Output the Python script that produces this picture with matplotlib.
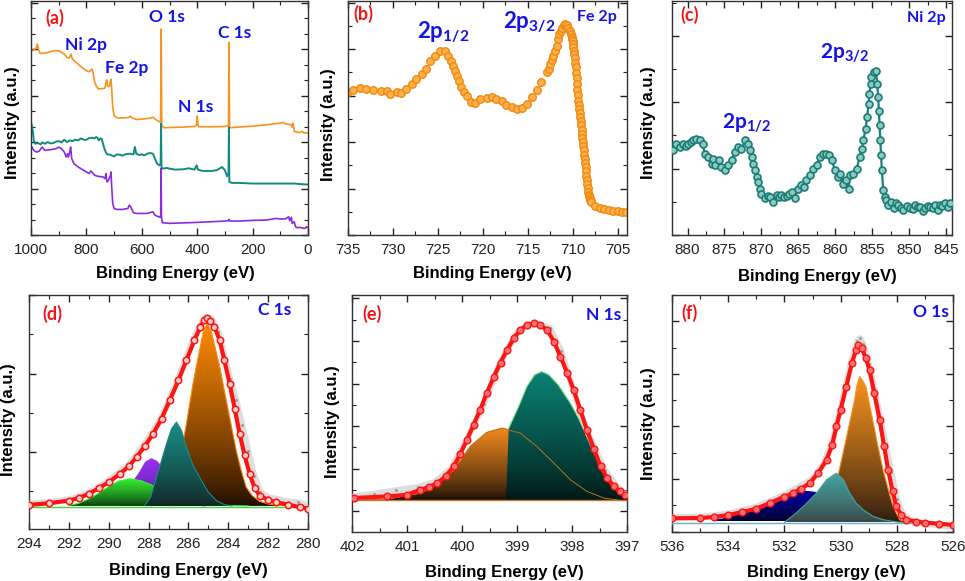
import numpy as np
import matplotlib
matplotlib.use("Agg")
import matplotlib.pyplot as plt
from matplotlib.patches import Polygon
from matplotlib.colors import to_rgb
from matplotlib.ticker import MultipleLocator

plt.rcParams['font.family'] = ['Liberation Sans', 'DejaVu Sans']
plt.rcParams['mathtext.fontset'] = 'custom'
plt.rcParams['mathtext.bf'] = 'Lato:bold'
plt.rcParams['mathtext.rm'] = 'Lato'
plt.rcParams['mathtext.it'] = 'Lato:italic'

# ---------------- (a) survey ----------------
SURV_O_BE = [1000, 990, 980, 977, 973, 967, 950, 930, 920, 900, 895, 880, 870, 862, 858, 855, 852, 845, 830,
             817, 800, 790, 785, 780, 776, 770, 765, 757, 740, 733, 729, 727, 724, 720, 716, 713, 711, 709, 705,
             700, 690, 660, 648, 642, 635, 620, 600, 570, 560, 550, 540, 534, 532, 530, 528, 520, 500, 450, 410,
             403, 400, 397, 394, 350, 300, 290, 287, 285, 283, 281, 270, 200, 150, 100, 90, 80, 60, 57, 55, 52,
             50, 40, 30, 20, 15, 10, 0]
SURV_O = [555, 557, 565, 575, 560, 547, 548, 552, 555, 555, 553, 545, 535, 533, 540, 545, 533, 525, 515,
          505, 495, 492, 495, 500, 490, 460, 450, 440, 441, 443, 460, 467, 450, 447, 450, 465, 469, 445, 385,
          360, 353, 353, 354, 358, 353, 348, 349, 352, 355, 348, 343, 340, 345, 620, 330, 323, 324, 325, 327,
          330, 358, 330, 326, 326, 327, 330, 328, 580, 325, 323, 324, 328, 332, 337, 339, 335, 332, 325, 337, 327,
          312, 310, 309, 312, 307, 308, 307]

SURV_T_BE = [1000, 997, 993, 990, 985, 975, 965, 960, 950, 940, 930, 920, 910, 900, 890, 880, 870, 860, 850,
             840, 830, 820, 810, 800, 790, 780, 770, 765, 760, 755, 750, 745, 740, 735, 730, 725, 715, 710, 700,
             690, 680, 670, 660, 645, 630, 625, 620, 610, 600, 590, 580, 570, 560, 555, 545, 537, 532, 530.5,
             529, 525, 510, 500, 480, 450, 430, 410, 402, 398, 380, 350, 330, 320, 310, 300, 292, 287, 285.5,
             284, 275, 250, 200, 150, 100, 50, 20, 0]
SURV_T = [340, 330, 310, 285, 275, 277, 273, 279, 275, 280, 276, 277, 281, 283, 279, 287, 280, 285, 283,
          287, 285, 291, 287, 287, 292, 293, 291, 295, 293, 285, 291, 290, 275, 260, 250, 243, 242, 240, 237,
          243, 242, 239, 243, 245, 243, 265, 245, 241, 243, 240, 245, 247, 245, 235, 215, 210, 215, 335,
          205, 200, 202, 200, 197, 198, 201, 197, 210, 197, 193, 193, 195, 200, 205, 195, 177, 185, 325,
          160, 157, 157, 155, 155, 155, 155, 153, 152]

SURV_P_BE = [1000, 997, 990, 980, 970, 960, 950, 930, 910, 900, 890, 880, 873, 868, 865, 860, 857, 853, 845,
             830, 810, 790, 784, 780, 770, 760, 740, 733, 729, 726, 720, 713, 711, 709, 705, 700, 690, 670, 650,
             645, 640, 630, 620, 580, 560, 553, 540, 532, 530.5, 529, 526, 500, 400, 300, 288, 285, 282, 250,
             200, 150, 115, 100, 80, 70, 66, 60, 57, 50, 45, 40, 30, 20, 10, 5, 0]
SURV_P = [267, 265, 255, 250, 253, 265, 255, 257, 260, 265, 260, 250, 235, 245, 235, 250, 265, 230, 215,
          205, 195, 185, 193, 190, 180, 177, 175, 170, 185, 160, 165, 180, 190, 150, 95, 80, 77, 77, 80,
          90, 85, 67, 65, 65, 70, 60, 55, 53, 200, 55, 37, 35, 38, 42, 43, 47, 42, 42,
          44, 45, 50, 48, 49, 55, 43, 53, 35, 40, 25, 22, 23, 21, 20, 25, 22]

# ---------------- (b) Fe 2p ----------------
FE_BE = [735.0, 734.4, 733.7, 733.0, 732.2, 731.3, 730.7, 730.3, 729.6, 729.1, 728.5, 727.9, 727.4, 726.8,
         726.3, 725.9, 725.3, 724.8, 724.2, 723.9, 723.5, 723.3, 723.1, 722.9, 722.7, 722.4, 722.1, 721.8,
         721.3, 720.9, 720.3, 719.6, 719.0, 718.5, 717.9, 717.4, 716.8, 716.2, 715.7, 715.1, 714.6, 714.0,
         713.5, 712.9, 712.7, 712.5, 712.35, 712.2, 712.0, 711.8, 711.65, 711.5, 711.35, 711.2, 711.05,
         710.9, 710.7, 710.5, 710.35, 710.2, 710.15, 710.1, 710.05, 710.0, 709.95, 709.9, 709.85, 709.8,
         709.75, 709.7, 709.65, 709.6, 709.55, 709.5, 709.45, 709.4, 709.35, 709.3, 709.25, 709.2, 709.15,
         709.1, 709.05, 709.0, 708.95, 708.9, 708.85, 708.8, 708.75, 708.7, 708.65, 708.6, 708.55, 708.5,
         708.45, 708.4, 708.35, 708.3, 708.25, 708.2, 708.15, 708.1, 708.05, 708.0, 707.5, 707.0, 706.5,
         706.0, 705.5, 705.0, 704.5, 704.1]
FE_INT = [430, 437, 443, 440, 437, 435, 433, 425, 430, 428, 440, 455, 470, 485,
          500, 525, 540, 555, 553, 540, 525, 510, 495, 480, 465, 445, 432, 420,
          400, 398, 410, 413, 415, 410, 403, 393, 385, 380, 383, 395, 415, 437,
          460, 490, 500, 515, 528, 540, 555, 570, 590, 605, 615, 625, 632,
          635, 632, 625, 615, 605, 598, 590, 583, 575, 565, 555, 545, 532,
          519, 505, 489, 472, 455, 438, 422, 405, 392, 380, 367, 355, 342,
          330, 317, 305, 292, 280, 267, 255, 242, 230, 217, 205, 192, 178,
          165, 153, 141, 130, 122, 116, 110, 106, 103, 100, 87, 81, 78,
          76, 73, 71, 70, 69]

# ---------------- (c) Ni 2p ----------------
NI_BE = [881.9, 881.5, 881.0, 880.6, 880.2, 879.9, 879.5, 879.2, 878.8, 878.3, 877.9, 877.7, 877.2, 876.7,
         876.5, 876.3, 875.8, 875.4, 874.9, 874.5, 874.0, 873.6, 873.1, 872.7, 872.2, 871.8, 871.5, 871.3,
         871.1, 870.9, 870.6, 870.4, 870.2, 870.0, 869.5, 869.1, 868.8, 868.4, 867.9, 867.6, 867.3, 866.9,
         866.6, 866.2, 865.9, 865.5, 865.0, 864.6, 864.2, 863.9, 863.4, 863.0, 862.5, 862.1, 861.6, 861.2,
         860.9, 860.5, 860.0, 859.6, 859.4, 858.9, 858.5, 858.2, 858.0, 857.6, 857.1, 856.7, 856.4, 856.2,
         855.9, 855.7, 855.5, 855.4, 855.2, 855.1, 854.8, 854.5, 854.3, 854.2, 854.1, 854.0, 853.9, 853.8,
         853.7, 853.5, 853.3, 853.1, 852.8, 852.5, 852.1, 851.8, 851.5, 851.1, 850.8, 850.3, 849.9, 849.5,
         849.2, 848.8, 848.5, 848.1, 847.8, 847.5, 847.2, 846.8, 846.5, 846.1, 845.8, 845.5, 845.1, 844.8,
         844.5]
NI_INT = [255, 275, 265, 275, 267, 275, 280, 285, 290, 285, 275, 245, 235, 215,
          230, 210, 225, 205, 195, 210, 225, 250, 265, 260, 285, 275, 255, 235,
          215, 195, 175, 160, 140, 125, 110, 117, 115, 100, 120, 113, 120, 115,
          117, 123, 130, 110, 140, 150, 145, 165, 180, 200, 210, 235, 245, 243,
          240, 225, 195, 175, 185, 155, 165, 140, 180, 185, 200, 235, 260, 285,
          320, 355, 395, 425, 455, 475, 490, 495, 455, 415, 375, 330, 285, 240,
          195, 135, 115, 105, 90, 100, 80, 95, 90, 80, 75, 87, 80, 77,
          90, 83, 85, 73, 80, 87, 85, 80, 90, 75, 90, 87, 95, 85,
          95]

# ---------------- (d) C 1s ----------------
C_ENV_BE = [294, 293, 292, 291.5, 291, 290.5, 290, 289.44, 289, 288.6, 288.2, 287.77, 287.35, 286.94, 286.5,
            286.1, 285.7, 285.4, 285.2, 285.07, 284.9, 284.7, 284.43, 284.2, 283.93, 283.68, 283.43, 283.18,
            282.93, 282.68, 282.43, 282.0, 281.6, 281, 280.4, 280]
C_ENV = [72, 77, 85, 93, 105, 122, 140, 165, 187, 215, 247, 285, 330, 385, 445,
         505, 565, 605, 625, 630, 623, 605, 565, 505, 435, 360, 285, 220,
         165, 123, 100, 87, 80, 73, 65, 61]
C_RAW_BE = [294, 293, 292, 291, 290, 289, 288.2, 287.5, 287, 286.5, 286.1, 285.7, 285.4, 285.1, 284.8, 284.5,
            284.2, 283.9, 283.6, 283.3, 283.0, 282.7, 282.4, 282.0, 281.6, 281, 280.5, 280]
C_RAW = [75, 80, 88, 108, 145, 192, 255, 318, 382, 452, 515, 575, 612, 635, 628, 590,
         520, 450, 385, 310, 232, 160, 112, 95, 90, 82, 80, 70]
C_BASE = 69
C_ORANGE_BE = [287.0, 286.6, 286.35, 286.1, 285.77, 285.44, 285.25, 285.07, 284.85, 284.65, 284.43, 284.1,
               283.85, 283.6, 283.35, 283.1, 282.8, 282.43, 282.0, 281.5, 281.0]
C_ORANGE = [70, 155, 235, 315, 435, 535, 590, 615, 590, 540, 485, 385, 310, 235, 175, 125, 100, 83, 75, 71, 69]
C_TEAL_BE = [288.2, 287.9, 287.6, 287.35, 287.1, 286.85, 286.6, 286.35, 286.1, 285.8, 285.44, 285.0, 284.6,
             284.2, 283.8]
C_TEAL = [70, 95, 155, 205, 255, 300, 320, 295, 245, 195, 155, 110, 85, 73, 69]
C_PURPLE_BE = [289.5, 289.1, 288.8, 288.44, 288.15, 287.86, 287.6, 287.35, 287.0, 286.6, 286.2, 285.7, 285.2]
C_PURPLE = [75, 105, 140, 170, 200, 210, 203, 187, 150, 110, 85, 73, 69]
C_GREEN_BE = [292, 291.5, 291, 290.5, 290, 289.5, 288.94, 288.4, 287.9, 287.4, 286.9, 286.4, 285.9, 285.0,
              284.0, 283.0]
C_GREEN = [70, 77, 90, 107, 127, 143, 150, 145, 133, 115, 100, 87, 79, 73, 70, 69]

# ---------------- (e) N 1s ----------------
N_ENV_BE = [401.97, 401.36, 401.0, 400.76, 400.6, 400.45, 400.3, 400.15, 400.03, 399.91, 399.79, 399.67,
            399.55, 399.42, 399.3, 399.18, 399.06, 398.94, 398.82, 398.70, 398.58, 398.45, 398.33, 398.21,
            398.09, 397.97, 397.85, 397.73, 397.6, 397.48, 397.36, 397.24, 397.13, 397.03]
N_ENV = [102, 107, 112, 127, 135, 147, 167, 197, 235, 277, 322, 367,
         417, 467, 509, 547, 582, 607, 621, 627, 621, 607, 572, 527,
         479, 427, 367, 307, 249, 197, 162, 137, 122, 112]
N_RAW_BE = [402, 401.6, 401.2, 400.8, 400.5, 400.2, 399.9, 399.6, 399.3, 399.0, 398.8, 398.6, 398.4, 398.2,
            398.0, 397.8, 397.6, 397.4, 397.2, 397.0]
N_RAW = [105, 115, 125, 135, 150, 190, 282, 385, 510, 598, 622, 625, 612, 545,
         440, 335, 255, 185, 140, 110]
N_BASE = 95
N_ORANGE_BE = [401.97, 401.36, 400.76, 400.45, 400.15, 399.85, 399.55, 399.27, 398.94, 398.64, 398.33, 398.03,
               397.73, 397.42, 397.12]
N_ORANGE = [95, 99, 117, 142, 187, 257, 299, 312, 297, 257, 207, 157, 122, 102, 95]
N_TEAL_BE = [399.2, 399.15, 398.97, 398.82, 398.68, 398.55, 398.42, 398.25, 398.03, 397.88, 397.73, 397.58,
             397.42, 397.24, 397.06, 396.95]
N_TEAL = [95, 312, 377, 437, 472, 482, 472, 442, 387, 342, 287, 237, 187, 137, 107, 99]

# ---------------- (f) O 1s ----------------
O_ENV_BE = [536, 535, 534.5, 534, 533.5, 533, 532.5, 532, 531.7, 531.4, 531.1, 530.8, 530.5, 530.3, 530.15,
            530, 529.8, 529.6, 529.45, 529.38, 529.25, 529.1, 528.97, 528.8, 528.61, 528.45, 528.31, 528.15,
            528.02, 527.85, 527.66, 527.3, 527, 526.5, 526]
O_ENV = [41, 42, 45, 51, 60, 70, 87, 105, 117, 130, 147, 177, 217, 262, 317,
         367, 437, 507, 547, 562, 552, 522, 487, 417, 337, 257, 187, 122,
         77, 52, 37, 31, 28, 25, 21]
O_RAW_BE = [536, 535, 534, 533, 532.5, 532, 531.5, 531, 530.6, 530.3, 530, 529.8, 529.6, 529.4, 529.3, 529.2,
            529.0, 528.8, 528.6, 528.4, 528.2, 528.0, 527.8, 527.5, 527, 526.5, 526]
O_RAW = [44, 45, 55, 76, 93, 112, 135, 160, 205, 270, 375, 445, 520, 575, 582, 565,
         505, 430, 345, 265, 180, 100, 55, 35, 25, 20, 15]
O_BASE = 29
O_NAVY_BE = [534.5, 534.2, 533.5, 533, 532.4, 532, 531.6, 531.2, 530.9, 530.5, 530.1, 529.7, 529.3, 528.9]
O_NAVY = [37, 39, 57, 75, 97, 113, 120, 122, 119, 102, 77, 55, 39, 32]
O_TEAL_BE = [532.0, 531.58, 531.2, 530.86, 530.5, 530.15, 529.9, 529.68, 529.45, 529.2, 528.85, 528.49, 528.0,
             527.5]
O_TEAL = [29, 57, 87, 117, 157, 177, 157, 117, 87, 67, 47, 37, 30, 27]
O_ORANGE_BE = [531.0, 530.6, 530.3, 530.07, 529.9, 529.7, 529.5, 529.42, 529.32, 529.22, 529.1, 528.86, 528.68,
               528.49, 528.3, 528.13, 527.9, 527.6]
O_ORANGE = [37, 67, 117, 178, 242, 320, 397, 440, 467, 455, 437, 337, 262, 187, 127, 77, 37, 29]

# ====================================================================
W, H = 965, 581
fig = plt.figure(figsize=(W / 100, H / 100), dpi=100)
fig.patch.set_facecolor('white')


def px_ax(l, r, t, b):
    return fig.add_axes([l / W, 1 - b / H, (r - l) / W, (b - t) / H])


def ftext(x, y, s, **kw):
    kw.setdefault('ha', 'center')
    kw.setdefault('va', 'center')
    fig.text(x / W, 1 - y / H, s, **kw)


def style(ax, xlim, ylim, xmaj, xmin, ymaj, ymin, pad, yoff=0.0):
    ax.set_xlim(*xlim)
    ax.set_ylim(*ylim)
    ax.xaxis.set_major_locator(MultipleLocator(xmaj))
    ax.xaxis.set_minor_locator(MultipleLocator(xmin))
    ax.yaxis.set_major_locator(MultipleLocator(ymaj, offset=yoff))
    ax.yaxis.set_minor_locator(MultipleLocator(ymin, offset=yoff % ymin))
    ax.tick_params(which='both', direction='in', top=True, right=True, labelleft=False,
                   labelsize=11, pad=pad, colors='#222222')
    ax.tick_params(which='major', length=5, width=1)
    ax.tick_params(which='minor', length=3, width=0.8)
    for s in ax.spines.values():
        s.set_linewidth(1.0)
        s.set_color('#333333')
    ax.xaxis.set_major_formatter(plt.FuncFormatter(lambda v, p: f"{v:g}"))


def grad_fill(ax, xs, ys, base, top_col, bot_col, z, edge=None, edge_from=0):
    xs = np.asarray(xs, float)
    ys = np.asarray(ys, float)
    verts = [(xs[0], base)] + list(zip(xs, ys)) + [(xs[-1], base)]
    poly = Polygon(verts, closed=True, facecolor='none', edgecolor='none', zorder=z)
    ax.add_patch(poly)
    c1 = np.array(to_rgb(top_col))
    c0 = np.array(to_rgb(bot_col))
    t = np.linspace(0, 1, 256)[:, None] ** 0.8
    img = (c0 + (c1 - c0) * t).reshape(256, 1, 3)
    im = ax.imshow(img, extent=[xs.min(), xs.max(), base, ys.max()], origin='lower',
                   aspect='auto', zorder=z, interpolation='bilinear')
    im.set_clip_path(poly)
    ax.plot(xs[edge_from:], ys[edge_from:], color=edge if edge else top_col, lw=0.8, zorder=z + 0.1)


def envelope(ax, be, raw_be, raw, env, ring):
    ax.plot(raw_be, raw, color='#cfcfcf', lw=4.5, alpha=0.7, zorder=6, solid_capstyle='round')
    ax.plot(raw_be, raw, '.', ms=2.5, color='#a0a0a0', zorder=6)
    ax.plot(be, env, color='#ff1414', lw=3.0, zorder=7)
    if ring:
        ax.plot(be, env, 'o', ms=4.6, mfc='#ffd0d0', mec='#ff1414', mew=1.1, zorder=8)
    else:
        ax.plot(be, env, 'o', ms=4.8, mfc='#ff7070', mec='#ff1414', mew=1.0, zorder=8)


BLUE = '#1414e6'
RED = '#f01616'
lab_kw = dict(family=['Lato', 'DejaVu Sans'], fontweight='bold')

# ---------------- (a) ----------------
axa = px_ax(31, 308, 1, 235)
axa.plot(SURV_O_BE, SURV_O, color='#f7931e', lw=1.2)
axa.plot(SURV_T_BE, SURV_T, color='#138a80', lw=1.4)
axa.plot(SURV_P_BE, SURV_P, color='#8a2be2', lw=1.2)
style(axa, (1000, 0), (0, 705), 200, 100, 140, 140 / 3, 5.5)

# ---------------- (b) ----------------
axb = px_ax(348, 627, 1, 235)
axb.plot(FE_BE, FE_INT, 'o', ms=5.4, mfc='#ffb04a', mec='#f08a10', mew=1.0)
style(axb, (735, 704), (0, 705), 5, 2.5, 140, 70, 5.5)

# ---------------- (c) ----------------
axc = px_ax(672, 952, 1, 235)
axc.plot(NI_BE, NI_INT, color='#1b8078', lw=1.6, zorder=2)
axc.plot(NI_BE, NI_INT, 'o', ms=5.0, mfc='#8cc9c2', mec='#1b7d75', mew=1.2, zorder=3)
style(axc, (882.1, 844.2), (0, 705), 5, 2.5, 200, 100, 5.5)

# ---------------- (d) ----------------
axd = px_ax(29, 308, 295, 529)
grad_fill(axd, C_ORANGE_BE, C_ORANGE, C_BASE, '#ff8a05', '#1e0c00', 2)
grad_fill(axd, C_PURPLE_BE, C_PURPLE, C_BASE, '#9b30f5', '#40208a', 3)
grad_fill(axd, C_GREEN_BE, C_GREEN, C_BASE, '#33f033', '#0e3a0e', 4)
grad_fill(axd, C_TEAL_BE, C_TEAL, C_BASE, '#1a8c86', '#102424', 5)
axd.axhline(C_BASE - 2, color='#3fd63f', lw=1.0, zorder=4.5)
envelope(axd, C_ENV_BE, C_RAW_BE, C_RAW, C_ENV, True)
style(axd, (294, 280), (0, 700), 2, 1, 235, 117.5, 6, yoff=230)

# ---------------- (e) ----------------
axe = px_ax(352, 627, 295, 532)
grad_fill(axe, N_ORANGE_BE, N_ORANGE, N_BASE, '#f28a1e', '#1a0e06', 2)
grad_fill(axe, N_TEAL_BE, N_TEAL, N_BASE, '#0b8274', '#001614', 3, edge='#7fe07f', edge_from=1)
axe.plot(N_ORANGE_BE, N_ORANGE, color='#b8701e', lw=0.7, zorder=3.5)
axe.axhline(N_BASE, color='#c07a30', lw=1.0, zorder=3.6)
envelope(axe, N_ENV_BE, N_RAW_BE, N_RAW, N_ENV, False)
style(axe, (402, 397), (0, 712), 1, 0.5, 128, 64, 6, yoff=62)

# ---------------- (f) ----------------
axf = px_ax(672, 953, 295, 532)
grad_fill(axf, O_NAVY_BE, O_NAVY, O_BASE + 4, '#0000a0', '#00002a', 2)
grad_fill(axf, O_ORANGE_BE, O_ORANGE, O_BASE, '#f7921e', '#2a1a10', 3)
grad_fill(axf, O_TEAL_BE, O_TEAL, O_BASE, '#44a6a4', '#3a4444', 4)
axf.axhline(O_BASE - 2, color='#6fb0c8', lw=1.0, zorder=4.5)
envelope(axf, O_ENV_BE, O_RAW_BE, O_RAW, O_ENV, False)
style(axf, (536, 526), (0, 712), 2, 1, 158, 79, 6, yoff=1)

# ---------------- texts ----------------
for (x, y) in [(13, 123), (328, 125), (649, 123), (9, 420), (332, 422), (649, 424)]:
    ftext(x, y, 'Intensity (a.u.)', rotation=90, fontsize=12, fontweight='bold')
for (x, y) in [(175, 273), (492, 273), (817, 276), (188, 570), (504, 572), (826, 572)]:
    ftext(x, y, 'Binding Energy (eV)', fontsize=12, fontweight='bold')

for (x, y, s) in [(55, 18, '(a)'), (363, 14, '(b)'), (690, 15, '(c)'),
                  (52, 314, '(d)'), (372, 314, '(e)'), (690, 313, '(f)')]:
    ftext(x, y, s, color=RED, fontsize=13, **lab_kw)

for (x, y, s, fs) in [(167, 17, 'O 1s', 12.5), (235, 33, 'C 1s', 12.5), (86, 45, 'Ni 2p', 12.5),
                      (127, 68, 'Fe 2p', 12.5), (196, 107, 'N 1s', 12.5),
                      (597, 17, 'Fe 2p', 11.5), (926, 18, 'Ni 2p', 11.5),
                      (275, 310, 'C 1s', 12.5), (604, 315, 'N 1s', 12.5), (931, 312, 'O 1s', 12.5)]:
    ftext(x, y, s, color=BLUE, fontsize=fs, **lab_kw)

ftext(443, 32, r'$\mathbf{2p_{1/2}}$', color=BLUE, fontsize=16)
ftext(529, 22, r'$\mathbf{2p_{3/2}}$', color=BLUE, fontsize=16)
ftext(845, 53, r'$\mathbf{2p_{3/2}}$', color=BLUE, fontsize=15)
ftext(747, 123, r'$\mathbf{2p_{1/2}}$', color=BLUE, fontsize=15)

fig.savefig('out.png', dpi=100, facecolor='white')
